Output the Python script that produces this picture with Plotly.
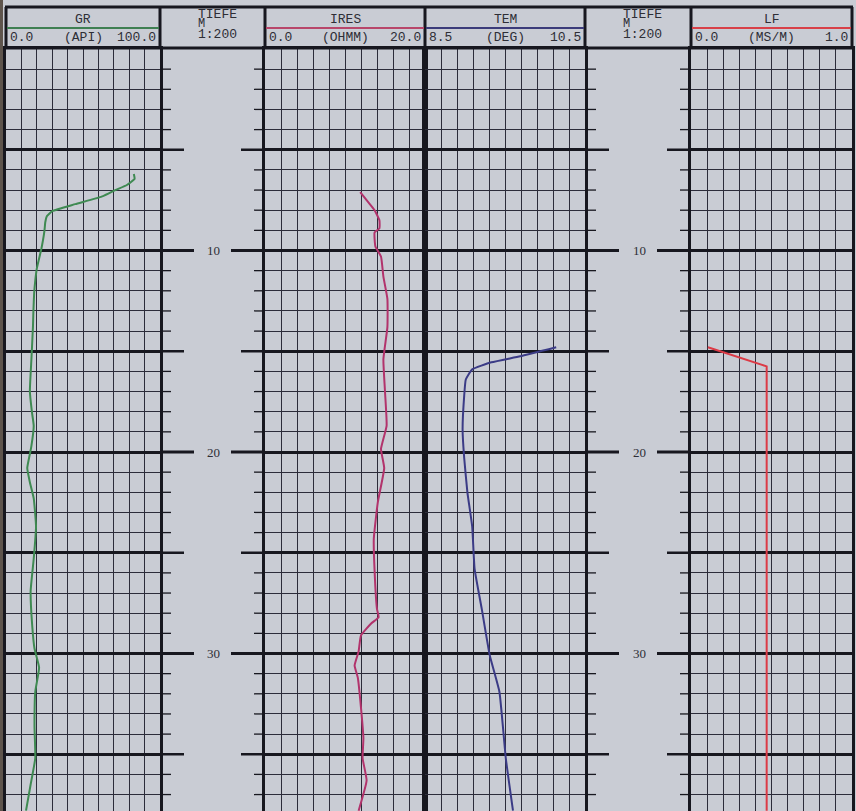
import plotly.graph_objects as go

depth_gr = [6.2, 6.45, 6.75, 7.0, 7.3, 7.7, 8.05, 8.3, 8.6, 9.0, 9.5, 9.9, 10.4, 10.9,
            11.5, 12.1, 13.0, 13.8, 15.4, 17.0, 18.0, 18.7, 19.75, 20.8, 21.5, 22.3,
            23.7, 25.3, 26.9, 28.6, 29.75, 30.7, 31.9, 33.6, 35.2, 36.5, 37.8]
gr = [83.0, 83.5, 78.5, 71.0, 63.0, 45.0, 30.0, 26.5, 25.5, 25.0, 24.0, 23.0, 21.5, 20.0,
      19.0, 18.3, 17.8, 17.5, 16.5, 15.5, 16.8, 18.0, 16.4, 13.8, 15.5, 18.0,
      19.5, 18.0, 16.0, 17.0, 18.5, 21.5, 19.0, 18.5, 19.0, 16.0, 13.0]

depth_ires = [7.1, 7.6, 8.0, 8.5, 8.9, 9.1, 9.8, 10.3, 11.3, 12.4, 13.8, 15.4, 17.0, 18.7,
              19.85, 20.8, 22.5, 24.3, 25.9, 27.8, 28.2, 28.5, 29.1, 29.9, 30.6, 31.2,
              32.7, 34.2, 35.2, 36.3, 37.8]
ires = [11.9, 12.9, 13.7, 14.3, 14.3, 13.7, 13.8, 14.5, 14.8, 15.3, 15.3, 14.8, 15.0, 15.2,
        14.5, 14.9, 14.1, 13.6, 13.7, 14.0, 14.2, 13.3, 12.0, 11.7, 11.2, 11.6,
        12.0, 12.3, 12.2, 12.7, 11.7]

depth_tem = [14.8, 15.25, 15.55, 15.9, 16.4, 17.2, 18.9, 20.3, 22.0, 23.7, 25.8, 27.8,
             30.1, 31.9, 35.2, 37.8]
tem = [10.14, 9.69, 9.33, 9.09, 9.01, 8.99, 8.97, 8.99, 9.03, 9.09, 9.12, 9.21,
       9.31, 9.43, 9.51, 9.60]

depth_lf = [14.8, 15.75, 37.8]
lf = [0.105, 0.47, 0.47]

track_names = ["GR", "IRES", "TEM", "LF"]
track_units = ["(API)", "(OHMM)", "(DEG)", "(MS/M)"]
track_min = [0.0, 0.0, 8.5, 0.0]
track_max = [100.0, 20.0, 10.5, 1.0]
scale_left_labels = ["0.0", "0.0", "8.5", "0.0"]
scale_right_labels = ["100.0", "20.0", "10.5", "1.0"]
depth_header = ["TIEFE", "M", "1:200"]
depth_labels = [10, 20, 30]

# ---------------- styling / layout ----------------
W, H = 856, 811
GRID_TOP = 49
PX_PER_M = 20.15
DEPTH_MAX = (H - GRID_TOP) / PX_PER_M

track_px = [(6, 160), (265, 425), (425, 585), (691, 852)]
depth_px = [(160, 265), (585, 691)]
curve_colors = ["#3f8a52", "#b2336c", "#3b3b86", "#dc3a46"]
header_line_colors = ["#3f7f52", "#b8466a", "#3b3b7a", "#d84048"]
smooth = [True, True, True, False]

PAPER = "#c9ccd4"
GRID = "#2c2c3a"
BORDER = "#17171f"
TEXT = "#2e2e36"


def px(x):
    return x / W


def py(y):
    return 1 - y / H


fig = go.Figure()
layout = {}
series = [(gr, depth_gr), (ires, depth_ires), (tem, depth_tem), (lf, depth_lf)]

for i in range(4):
    ax = "" if i == 0 else str(i + 1)
    vals, dep = series[i]
    x0, x1 = track_px[i]
    line = dict(color=curve_colors[i], width=2)
    if smooth[i]:
        line.update(shape="spline", smoothing=0.4)
    fig.add_trace(go.Scatter(x=vals, y=dep, xaxis="x" + ax, yaxis="y" + ax,
                             mode="lines", line=line, hoverinfo="skip",
                             showlegend=False))
    mn, mx = track_min[i], track_max[i]
    layout["xaxis" + ax] = dict(
        domain=[px(x0), px(x1)], range=[mn, mx], tick0=mn, dtick=(mx - mn) / 10,
        showgrid=True, gridcolor=GRID, gridwidth=1.4, showticklabels=False,
        zeroline=False, ticks="", showline=True, mirror=True, linecolor=BORDER,
        linewidth=3, anchor="y" + ax, fixedrange=True)
    layout["yaxis" + ax] = dict(
        domain=[0, py(GRID_TOP)], range=[DEPTH_MAX, 0], tick0=0, dtick=5,
        showgrid=True, gridcolor=BORDER, gridwidth=2.5,
        minor=dict(tick0=0, dtick=1, showgrid=True, gridcolor=GRID, gridwidth=1.3),
        showticklabels=False, zeroline=False, ticks="", showline=True, mirror=True,
        linecolor=BORDER, linewidth=3, anchor="x" + ax, fixedrange=True)

shapes = []
annotations = []

# header frame
shapes.append(dict(type="line", xref="paper", yref="paper", x0=px(5), x1=px(853),
                   y0=py(7), y1=py(7), line=dict(color=BORDER, width=3)))
shapes.append(dict(type="line", xref="paper", yref="paper", x0=px(5), x1=px(853),
                   y0=py(48), y1=py(48), line=dict(color=BORDER, width=3)))
bounds = sorted(set([b for t in track_px for b in t] + [b for t in depth_px for b in t]))
for b in bounds:
    shapes.append(dict(type="line", xref="paper", yref="paper", x0=px(b), x1=px(b),
                       y0=py(7), y1=py(48), line=dict(color=BORDER, width=3)))

mono = dict(family="Liberation Mono, DejaVu Sans Mono, monospace", size=13, color=TEXT)
for i in range(4):
    x0, x1 = track_px[i]
    shapes.append(dict(type="line", xref="paper", yref="paper", x0=px(x0 + 1), x1=px(x1 - 1),
                       y0=py(28), y1=py(28), line=dict(color=header_line_colors[i], width=2)))
    annotations.append(dict(x=px((x0 + x1) / 2), y=py(19), xref="paper", yref="paper",
                            text=track_names[i], showarrow=False, font=mono,
                            xanchor="center", yanchor="middle"))
    annotations.append(dict(x=px(x0 + 2), y=py(37.5), xref="paper", yref="paper",
                            text=scale_left_labels[i], showarrow=False, font=mono,
                            xanchor="left", yanchor="middle"))
    annotations.append(dict(x=px((x0 + x1) / 2), y=py(37.5), xref="paper", yref="paper",
                            text=track_units[i], showarrow=False, font=mono,
                            xanchor="center", yanchor="middle"))
    annotations.append(dict(x=px(x1 - 2), y=py(37.5), xref="paper", yref="paper",
                            text=scale_right_labels[i], showarrow=False, font=mono,
                            xanchor="right", yanchor="middle"))

header_y = [15, 24, 34.5]
header_size = [13, 12, 13]
for a, b in depth_px:
    for txt, yy, fs in zip(depth_header, header_y, header_size):
        annotations.append(dict(x=px(a + 37), y=py(yy), xref="paper", yref="paper",
                                text=txt, showarrow=False,
                                font=dict(family=mono["family"], size=fs, color=TEXT),
                                xanchor="left", yanchor="middle", borderpad=0))

# depth-track ticks and labels
for d in range(1, int(DEPTH_MAX) + 1):
    if d % 10 == 0:
        L, w = 34, 2.8
    elif d % 5 == 0:
        L, w = 24, 2.5
    else:
        L, w = 11, 1.3
    for a, b in depth_px:
        shapes.append(dict(type="line", xref="paper", yref="y", x0=px(a), x1=px(a + L),
                           y0=d, y1=d, line=dict(color=BORDER, width=w)))
        shapes.append(dict(type="line", xref="paper", yref="y", x0=px(b - L), x1=px(b),
                           y0=d, y1=d, line=dict(color=BORDER, width=w)))

serif = dict(family="Liberation Serif, DejaVu Serif, serif", size=13, color=TEXT)
for d in depth_labels:
    for a, b in depth_px:
        annotations.append(dict(x=px((a + b) / 2 + 1), y=d, xref="paper", yref="y",
                                text=str(d), showarrow=False, font=serif,
                                xanchor="center", yanchor="middle"))

# dark photo edge on the left
shapes.append(dict(type="rect", xref="paper", yref="paper", x0=0, x1=px(3), y0=0, y1=1,
                   fillcolor="#5e544c", line=dict(width=0), layer="below"))

fig.update_layout(**layout)
fig.update_layout(width=W, height=H, autosize=False,
                  margin=dict(l=0, r=0, t=0, b=0),
                  paper_bgcolor=PAPER, plot_bgcolor=PAPER,
                  shapes=shapes, annotations=annotations, showlegend=False)

fig.write_html("out.html", config={"displayModeBar": False},
               post_script="document.body.style.margin='0';"
                           "document.body.style.overflow='hidden';")
